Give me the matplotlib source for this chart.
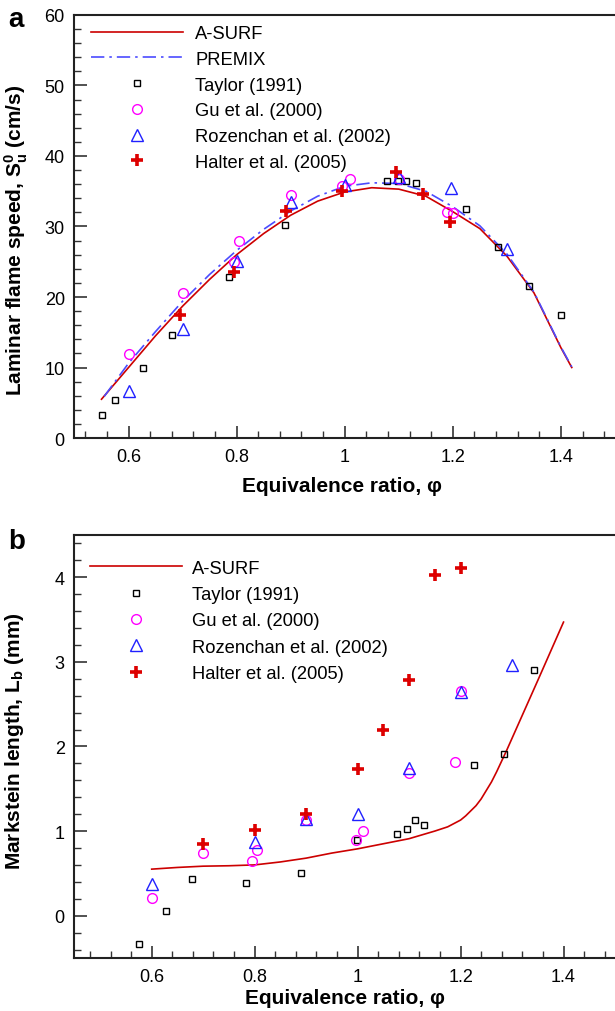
import matplotlib
matplotlib.use("Agg")
import matplotlib.pyplot as plt
from matplotlib.ticker import MultipleLocator

plt.rcParams['font.family'] = ['Liberation Sans', 'DejaVu Sans']
plt.rcParams['mathtext.fontset'] = 'custom'
plt.rcParams['mathtext.rm'] = 'Liberation Sans:bold'
plt.rcParams['mathtext.bf'] = 'Liberation Sans:bold'
plt.rcParams['mathtext.it'] = 'Liberation Sans:bold'

# ---- panel a: laminar flame speed ----
asurf_phi = [0.55, 0.6, 0.65, 0.7, 0.75, 0.8, 0.85, 0.9, 0.95, 1.0, 1.05, 1.1, 1.15, 1.2, 1.25, 1.3, 1.35, 1.4, 1.42]
asurf_su = [5.5, 10.0, 14.5, 18.7, 22.5, 26.0, 29.0, 31.6, 33.6, 34.9, 35.5, 35.3, 34.3, 32.1, 29.7, 25.8, 20.6, 12.8, 10.0]
premix_phi = [0.555, 0.6, 0.65, 0.7, 0.75, 0.8, 0.85, 0.9, 0.95, 1.0, 1.05, 1.1, 1.15, 1.2, 1.25, 1.3, 1.35, 1.4, 1.42]
premix_su = [5.9, 10.6, 15.1, 19.4, 23.2, 26.6, 29.6, 32.2, 34.3, 35.7, 36.2, 36.1, 35.0, 32.8, 30.1, 26.1, 20.7, 12.9, 10.1]

taylor_phi_a = [0.55, 0.575, 0.627, 0.68, 0.785, 0.89, 1.078, 1.098, 1.114, 1.131, 1.224, 1.283, 1.34, 1.4]
taylor_su = [3.3, 5.4, 9.9, 14.6, 22.9, 30.2, 36.4, 36.5, 36.4, 36.1, 32.5, 27.1, 21.6, 17.5]
gu_phi_a = [0.6, 0.7, 0.795, 0.805, 0.9, 0.995, 1.01, 1.1, 1.19, 1.2]
gu_su = [11.9, 20.5, 25.0, 28.0, 34.4, 35.8, 36.8, 36.7, 32.1, 31.9]
roz_phi_a = [0.6, 0.7, 0.8, 0.9, 1.0, 1.1, 1.196, 1.3]
roz_su = [6.6, 15.4, 25.1, 33.5, 35.9, 37.0, 35.4, 26.8]
halter_phi_a = [0.695, 0.795, 0.892, 0.995, 1.095, 1.145, 1.195]
halter_su = [17.4, 23.5, 32.2, 35.0, 37.8, 34.6, 30.6]

# ---- panel b: Markstein length ----
asurf_phi_b = [0.6, 0.65, 0.7, 0.75, 0.8, 0.85, 0.9, 0.95, 1.0, 1.05, 1.1, 1.15, 1.175, 1.2, 1.21, 1.23,
               1.24, 1.25, 1.26, 1.27, 1.28, 1.29, 1.32, 1.35, 1.4]
asurf_lb = [0.55, 0.57, 0.585, 0.59, 0.60, 0.635, 0.68, 0.74, 0.79, 0.85, 0.91, 1.0, 1.05, 1.13, 1.18, 1.3,
            1.38, 1.48, 1.58, 1.70, 1.83, 1.96, 2.37, 2.78, 3.47]

taylor_phi_b = [0.576, 0.627, 0.678, 0.784, 0.89, 0.998, 1.077, 1.095, 1.111, 1.129, 1.226, 1.284, 1.342]
taylor_lb = [-0.34, 0.05, 0.43, 0.39, 0.5, 0.9, 0.96, 1.03, 1.13, 1.07, 1.78, 1.91, 2.9]
gu_phi_b = [0.6, 0.7, 0.795, 0.805, 0.9, 0.996, 1.01, 1.1, 1.19, 1.2]
gu_lb = [0.21, 0.74, 0.65, 0.78, 1.13, 0.9, 1.0, 1.69, 1.82, 2.66]
roz_phi_b = [0.6, 0.8, 0.9, 1.0, 1.1, 1.2, 1.3]
roz_lb = [0.38, 0.87, 1.14, 1.2, 1.75, 2.64, 2.96]
halter_phi_b = [0.7, 0.8, 0.9, 1.0, 1.05, 1.1, 1.15, 1.2]
halter_lb = [0.85, 1.01, 1.2, 1.73, 2.2, 2.79, 4.03, 4.11]

red = '#CC0000'
blue = '#4B4BFF'
sq = dict(ls='none', marker='s', ms=5, mfc='none', mec='black', mew=1.0)
ci = dict(ls='none', marker='o', ms=7, mfc='none', mec='#FF00FF', mew=1.0)
tr = dict(ls='none', marker='^', ms=8, mfc='none', mec='#2020FF', mew=1.0)
pl = dict(ls='none', marker='+', ms=9, mec='#DD0000', mew=2.6)

fig = plt.figure(figsize=(6.15, 10.12), dpi=100)
ax1 = fig.add_axes([0.1211, 0.5662, 0.8789, 0.418])
ax2 = fig.add_axes([0.1211, 0.0524, 0.8789, 0.418])

ax1.plot(asurf_phi, asurf_su, color=red, lw=1.2, label='A-SURF')
ax1.plot(premix_phi, premix_su, color=blue, lw=1.2, ls=(0, (8, 3, 1.5, 3)), label='PREMIX')
ax1.plot(taylor_phi_a, taylor_su, label='Taylor (1991)', **sq)
ax1.plot(gu_phi_a, gu_su, label='Gu et al. (2000)', **ci)
ax1.plot(roz_phi_a, roz_su, label='Rozenchan et al. (2002)', **tr)
ax1.plot(halter_phi_a, halter_su, label='Halter et al. (2005)', **pl)
ax1.set_xlim(0.5, 1.5)
ax1.set_ylim(0, 60)
ax1.yaxis.set_major_locator(MultipleLocator(10))
ax1.yaxis.set_minor_locator(MultipleLocator(2))
ax1.set_ylabel(r'Laminar flame speed, $\mathbf{S_u^0}$ (cm/s)', fontsize=15, fontweight='bold')
ax1.yaxis.set_label_coords(-0.082, 0.47)

ax2.plot(asurf_phi_b, asurf_lb, color=red, lw=1.2, label='A-SURF')
ax2.plot(taylor_phi_b, taylor_lb, label='Taylor (1991)', **sq)
ax2.plot(gu_phi_b, gu_lb, label='Gu et al. (2000)', **ci)
ax2.plot(roz_phi_b, roz_lb, label='Rozenchan et al. (2002)', **tr)
ax2.plot(halter_phi_b, halter_lb, label='Halter et al. (2005)', **pl)
ax2.set_xlim(0.45, 1.5)
ax2.set_ylim(-0.5, 4.5)
ax2.yaxis.set_major_locator(MultipleLocator(1))
ax2.yaxis.set_minor_locator(MultipleLocator(0.2))
ax2.set_ylabel(r'Markstein length, $\mathbf{L_b}$ (mm)', fontsize=15, fontweight='bold')
ax2.yaxis.set_label_coords(-0.09, 0.515)

for ax in (ax1, ax2):
    ax.xaxis.set_major_locator(MultipleLocator(0.2))
    ax.xaxis.set_minor_locator(MultipleLocator(0.04))
    ax.xaxis.set_major_formatter(plt.FuncFormatter(lambda v, p: f'{v:g}'))
    ax.tick_params(which='both', direction='in', labelsize=13, color='#333333')
    ax.tick_params(which='major', length=9, width=1.2, pad=7)
    ax.tick_params(which='minor', length=5, width=1.0)
    ax.spines['right'].set_visible(False)
    for s in ('left', 'top', 'bottom'):
        ax.spines[s].set_linewidth(1.5)
        ax.spines[s].set_color('#222222')
    ax.set_xlabel('Equivalence ratio, φ', fontsize=15, fontweight='bold')

ax1.legend(loc='upper left', bbox_to_anchor=(0.0305, 0.976), frameon=False, fontsize=13.2,
           handlelength=5.0, handletextpad=0.7, labelspacing=0.476, borderpad=0, borderaxespad=0)
ax2.legend(loc='upper left', bbox_to_anchor=(0.0295, 0.941), frameon=False, fontsize=13.2,
           handlelength=5.0, handletextpad=0.55, labelspacing=0.505, borderpad=0, borderaxespad=0)

ax1.xaxis.set_label_coords(0.495, -0.09)
ax2.xaxis.set_label_coords(0.5, -0.072)

fig.text(0.013, 0.993, 'a', fontsize=20, fontweight='bold', va='top')
fig.text(0.013, 0.477, 'b', fontsize=20, fontweight='bold', va='top')

fig.savefig('out.png', dpi=100)
